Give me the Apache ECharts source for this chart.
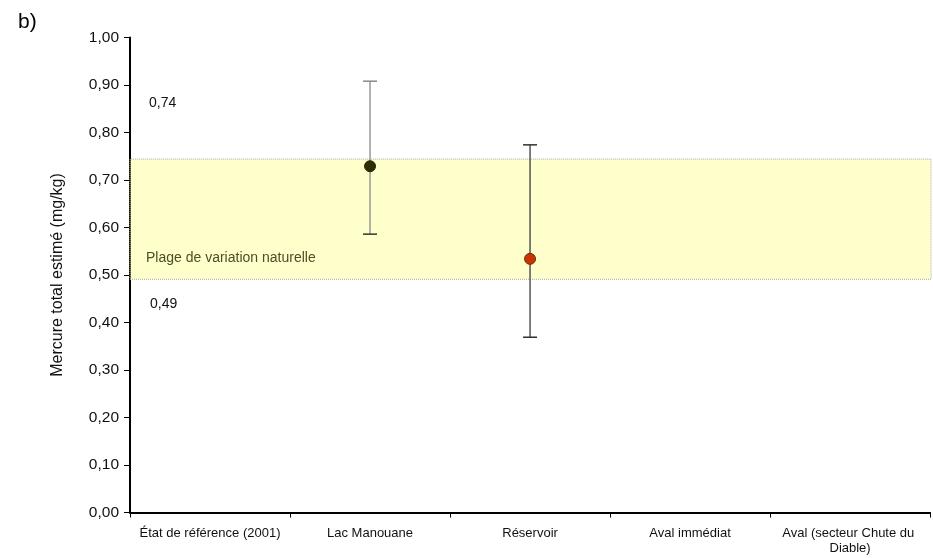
<!DOCTYPE html>
<html><head><meta charset="utf-8">
<script src="https://cdn.jsdelivr.net/npm/echarts@6/dist/echarts.min.js"></script>
<style>html,body{margin:0;padding:0;background:#fff}#c{width:933px;height:558px}</style>
</head><body><div id="c"></div>
<script>
const categories = ["État de référence (2001)", "Lac Manouane", "Réservoir", "Aval immédiat", "Aval (secteur Chute du Diable)"];
const meanValues = [null, 0.729, 0.534, null, null];
const lowValues = [null, 0.586, 0.369, null, null];
const highValues = [null, 0.908, 0.774, null, null];
const bandRange = [0.491, 0.744];
const bandLabels = ["0,74", "0,49"];
const bandName = "Plage de variation naturelle";

const FONT = "'Liberation Sans Narrow', 'Arial Narrow', 'Liberation Sans', sans-serif";
const chart = echarts.init(document.getElementById('c'));

const errData = [];
categories.forEach((c, i) => { if (meanValues[i] != null) errData.push([i, lowValues[i], highValues[i]]); });
const barColors = {1: '#999999', 2: '#555555'};
const capColors = {1: ['#888888', '#333333'], 2: ['#333333', '#333333']};

chart.setOption({
  animation: false,
  grid: {left: 130, right: 2, top: 37.5, bottom: 45.5},
  xAxis: {
    type: 'category', data: categories,
    axisLine: {lineStyle: {color: '#000', width: 2}},
    axisTick: {show: true, interval: 0, length: 5, lineStyle: {color: '#000'}},
    axisLabel: {interval: 0, color: '#111', fontFamily: FONT, fontSize: 13, margin: 13, width: 160, overflow: 'break', lineHeight: 15}
  },
  yAxis: {
    type: 'value', min: 0, max: 1, interval: 0.1,
    name: 'Mercure total estimé (mg/kg)', nameLocation: 'middle', nameGap: 64,
    nameTextStyle: {fontFamily: FONT, fontSize: 16, color: '#111'},
    axisLine: {show: true, lineStyle: {color: '#000', width: 2}},
    axisTick: {show: true, length: 6, lineStyle: {color: '#000'}},
    splitLine: {show: false},
    axisLabel: {color: '#111', fontFamily: FONT, fontSize: 15.5, margin: 11,
      formatter: v => v.toFixed(2).replace('.', ',')}
  },
  series: [
    {
      type: 'custom', z: 1,
      data: errData,
      renderItem: (params, api) => {
        const i = api.value(0);
        const lo = api.coord([i, api.value(1)]);
        const hi = api.coord([i, api.value(2)]);
        const hw = 7;
        const cc = capColors[i];
        return {type: 'group', children: [
          {type: 'line', shape: {x1: lo[0], y1: lo[1], x2: hi[0], y2: hi[1]}, style: {stroke: barColors[i], lineWidth: 1.5}},
          {type: 'line', shape: {x1: hi[0]-hw, y1: hi[1], x2: hi[0]+hw, y2: hi[1]}, style: {stroke: cc[0], lineWidth: 1.5}},
          {type: 'line', shape: {x1: lo[0]-hw, y1: lo[1], x2: lo[0]+hw, y2: lo[1]}, style: {stroke: cc[1], lineWidth: 1.5}}
        ]};
      }
    },
    {
      type: 'line', z: 2, data: [], silent: true,
      markArea: {
        silent: true,
        itemStyle: {color: 'rgba(255,255,85,0.3)', borderColor: '#aaaaaa', borderWidth: 1, borderType: 'dotted'},
        label: {show: false},
        data: [[{yAxis: bandRange[0], x: 130}, {yAxis: bandRange[1], x: 931}]]
      }
    },
    {
      type: 'scatter', z: 10, zlevel: 1, symbolSize: 11,
      data: meanValues.map((v, i) => v == null ? null : {value: [i, v], itemStyle: {opacity: 1, color: i === 1 ? '#2e2e00' : '#CC3300', borderColor: i === 1 ? '#222200' : '#663300', borderWidth: 1}}).filter(d => d)
    }
  ]
});

const pLabelTop = chart.convertToPixel({yAxisIndex: 0}, 0.862);
const pLabelBot = chart.convertToPixel({yAxisIndex: 0}, 0.438);
const pName = chart.convertToPixel({yAxisIndex: 0}, 0.535);
chart.setOption({graphic: [
  {type: 'text', left: 18, top: 12, zlevel: 1, style: {text: 'b)', font: "21px 'Liberation Sans', sans-serif", fill: '#000'}},
  {type: 'text', x: 149, y: pLabelTop, zlevel: 1, style: {text: bandLabels[0], font: "14px " + FONT, fill: '#111', verticalAlign: 'middle'}},
  {type: 'text', x: 150, y: pLabelBot, zlevel: 1, style: {text: bandLabels[1], font: "14px " + FONT, fill: '#111', verticalAlign: 'middle'}},
  {type: 'text', x: 146, y: pName, zlevel: 1, style: {text: bandName, font: "14px " + FONT, fill: '#4d4d26', verticalAlign: 'middle'}}
]});
</script></body></html>
